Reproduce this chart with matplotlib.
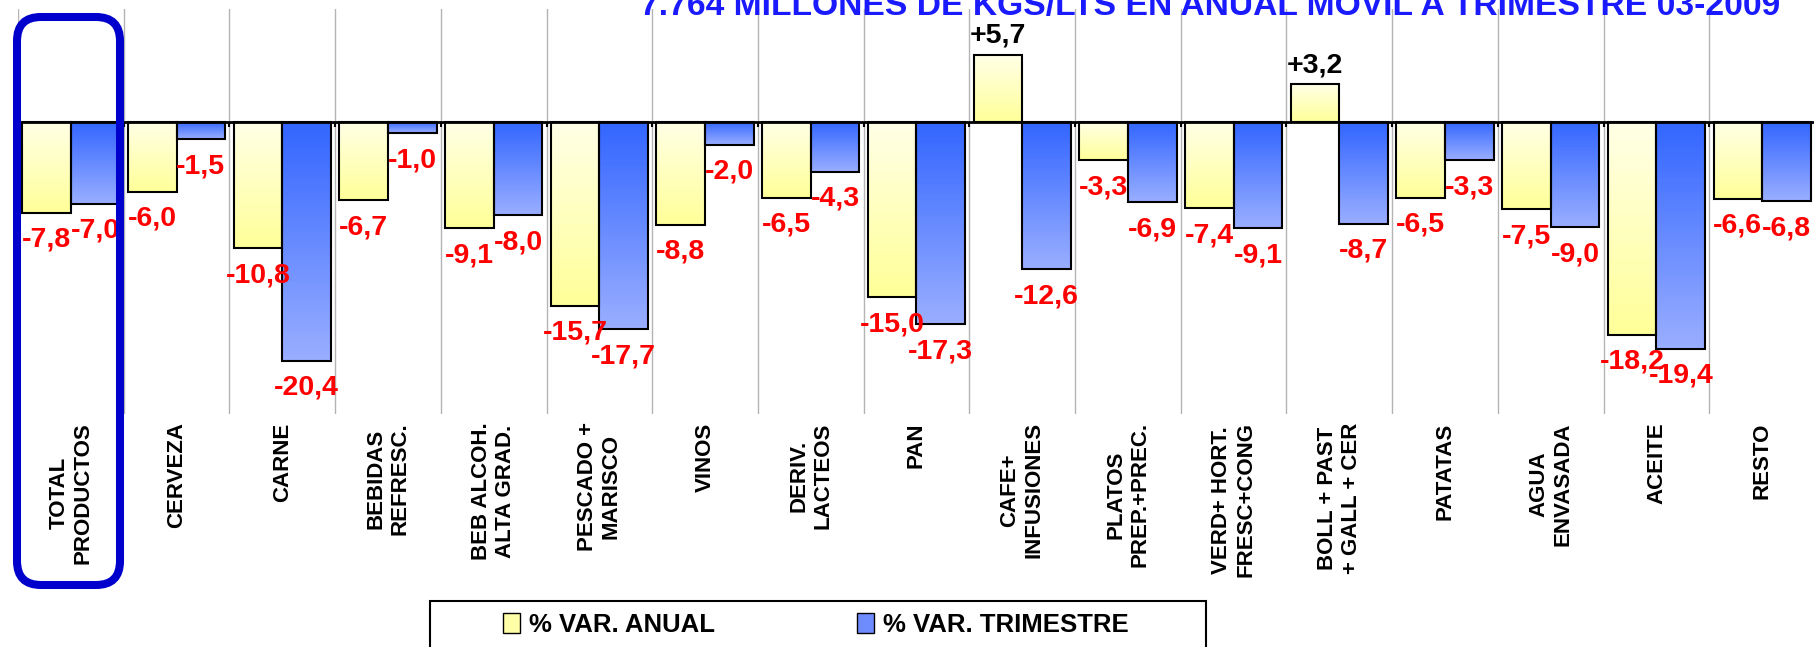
import numpy as np
import matplotlib
matplotlib.use("Agg")
import matplotlib.pyplot as plt
from matplotlib.colors import LinearSegmentedColormap
from matplotlib.patches import Patch, Rectangle, FancyBboxPatch
from matplotlib.transforms import IdentityTransform

plt.rcParams['font.family'] = ['Liberation Sans', 'DejaVu Sans']
plt.rcParams['font.weight'] = 'bold'

# data
categorias = ["TOTAL\nPRODUCTOS", "CERVEZA", "CARNE", "BEBIDAS\nREFRESC.",
              "BEB ALCOH.\nALTA GRAD.", "PESCADO +\nMARISCO", "VINOS",
              "DERIV.\nLACTEOS", "PAN", "CAFE+\nINFUSIONES", "PLATOS\nPREP.+PREC.",
              "VERD+ HORT.\nFRESC+CONG", "BOLL + PAST\n+ GALL + CER", "PATATAS",
              "AGUA\nENVASADA", "ACEITE", "RESTO"]
var_anual = [-7.8, -6.0, -10.8, -6.7, -9.1, -15.7, -8.8, -6.5, -15.0, 5.7,
             -3.3, -7.4, 3.2, -6.5, -7.5, -18.2, -6.6]
var_trimestre = [-7.0, -1.5, -20.4, -1.0, -8.0, -17.7, -2.0, -4.3, -17.3, -12.6,
                 -6.9, -9.1, -8.7, -3.3, -9.0, -19.4, -6.8]
series_names = ["% VAR. ANUAL", "% VAR. TRIMESTRE"]
titulo = "7.764 MILLONES DE KGS/LTS EN ANUAL MOVIL A TRIMESTRE 03-2009"

W, H = 1815, 647
fig = plt.figure(figsize=(W / 100, H / 100), dpi=100)
ax = fig.add_axes([18 / W, 1 - 414 / H, 1797 / W, 405 / H])

x = np.arange(len(categorias))
bw = 0.46
b1 = ax.bar(x - bw / 2, var_anual, bw, facecolor='none', edgecolor='black', lw=1.5, zorder=3)
b2 = ax.bar(x + bw / 2, var_trimestre, bw, facecolor='none', edgecolor='black', lw=1.5, zorder=3)

# vertical gradients clipped to each bar
cm_yel = LinearSegmentedColormap.from_list('yel', ['#FFFFE6', '#FFFF99'])
cm_blu = LinearSegmentedColormap.from_list('blu', ['#3366FF', '#99AEFF'])
grad = np.linspace(0, 1, 64).reshape(-1, 1)
for bars, cm in ((b1, cm_yel), (b2, cm_blu)):
    for r in bars:
        x0, y0, w, h = r.get_x(), r.get_y(), r.get_width(), r.get_height()
        if h < 0:
            y0, h = y0 + h, -h
        im = ax.imshow(grad, extent=[x0, x0 + w, y0, y0 + h], origin='upper',
                       cmap=cm, aspect='auto', zorder=2)
        im.set_clip_path(r)

# value labels
for bars, vals in ((b1, var_anual), (b2, var_trimestre)):
    for r, v in zip(bars, vals):
        txt = f"{v:+.1f}".replace('.', ',')
        cx = r.get_x() + r.get_width() / 2
        if v >= 0:
            ax.annotate(txt, (cx, v), xytext=(0, 6), textcoords='offset pixels',
                        ha='center', va='bottom', fontsize=20.5, color='black')
        else:
            ax.annotate(txt, (cx, v), xytext=(0, -14), textcoords='offset pixels',
                        ha='center', va='top', fontsize=20.5, color='#FF0000')

ax.set_xlim(-0.5, len(categorias) - 0.5)
ax.set_ylim(-24.95, 9.6)
ax.axhline(0, color='black', lw=2, zorder=4)
bounds = np.arange(len(categorias) + 1) - 0.5
ax.vlines(bounds, -25, 10, color='#B4B4B4', lw=1, zorder=1)
ax.vlines(bounds, -0.45, 0, color='black', lw=1.5, zorder=4)
for s in ax.spines.values():
    s.set_visible(False)
ax.set_yticks([])
ax.set_xticks(x)
ax.set_xticklabels(categorias, rotation=90, va='top', ha='center',
                   multialignment='center', fontsize=16, linespacing=1.2)
ax.tick_params(axis='x', length=0, pad=6)

# title (clipped at top edge as in the original), width fitted to the original
t = fig.text(640 / W, 1 - 15 / H, titulo, fontsize=30, color='#1a1aFF',
             ha='left', va='baseline')
fig.canvas.draw()
tw = t.get_window_extent().width
t.set_fontsize(30 * 1139 / tw)

# blue highlight frame around TOTAL
fig.add_artist(FancyBboxPatch((17, H - 585), 103, 568,
                              boxstyle='round,pad=0,rounding_size=24',
                              transform=IdentityTransform(), fill=False,
                              edgecolor='#0000CC', lw=5.8, zorder=10))

# legend
fig.add_artist(Rectangle((430 / W, -0.05), 776 / W, 46 / H + 0.05,
                         transform=fig.transFigure, fill=False,
                         edgecolor='black', lw=1.5))
handles = [Patch(facecolor='#FFFFA8', edgecolor='black', lw=1),
           Patch(facecolor='#6F8CFF', edgecolor='black', lw=1)]
fig.legend(handles, series_names, loc='center left',
           bbox_to_anchor=(503 / W, 1 - 625 / H), ncol=2, frameon=False,
           prop={'size': 18.5, 'weight': 'bold'},
           handlelength=0.65, handleheight=0.85, handletextpad=0.35,
           columnspacing=5.55, borderpad=0, borderaxespad=0)

fig.savefig("out.png", dpi=100)
